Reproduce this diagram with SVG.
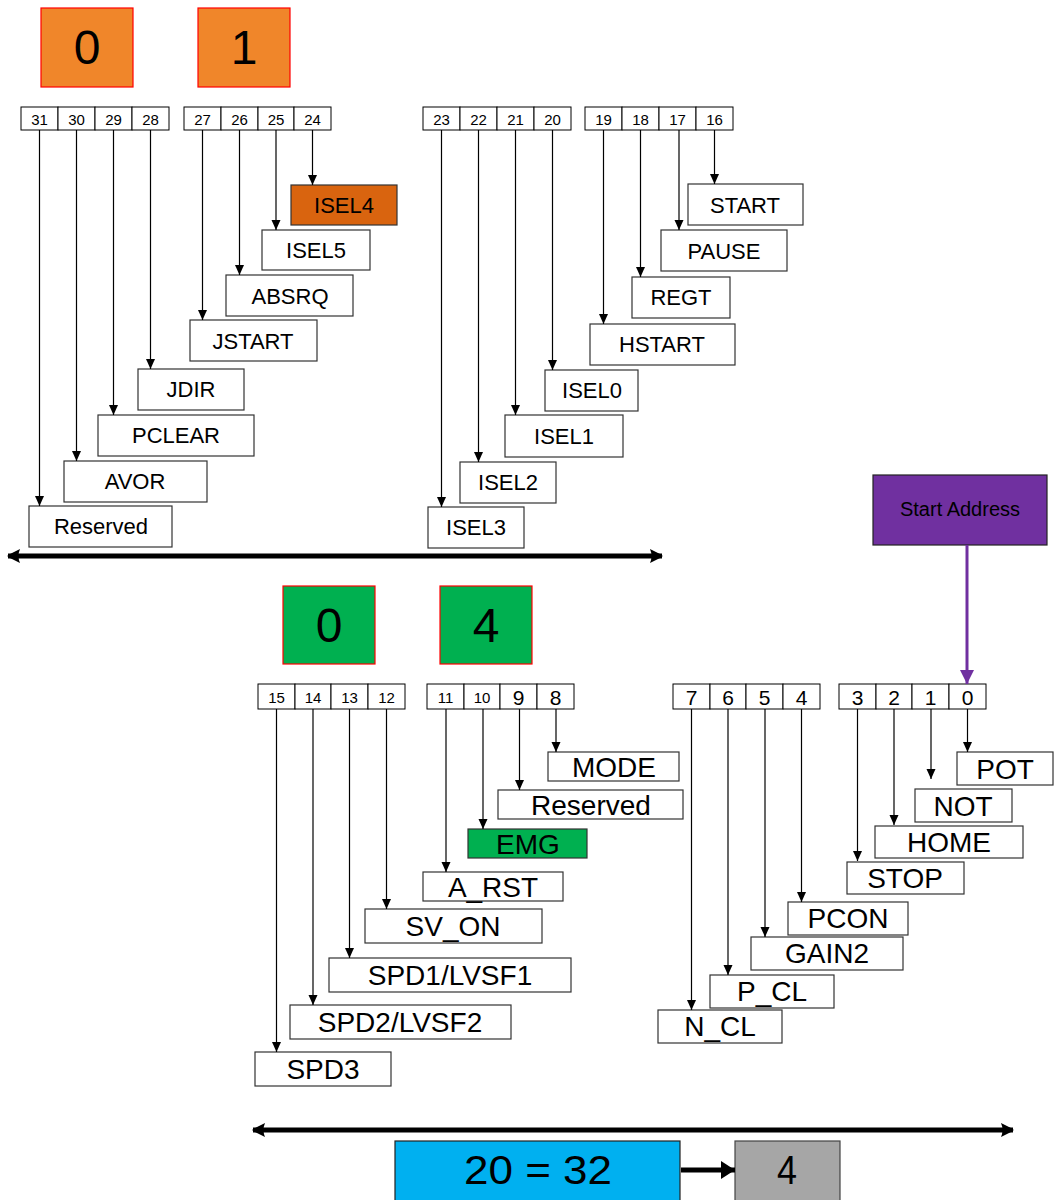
<svg xmlns="http://www.w3.org/2000/svg" width="1056" height="1200" viewBox="0 0 1056 1200">
<defs>
<marker id="ah" markerUnits="userSpaceOnUse" markerWidth="10" markerHeight="10" refX="10" refY="5" orient="auto"><path d="M0,0.5 L10,5 L0,9.5 z" fill="#000"/></marker>
<marker id="ahk" markerUnits="userSpaceOnUse" markerWidth="14" markerHeight="18" refX="14" refY="9" orient="auto"><path d="M0,0 L14,9 L0,18 z" fill="#000"/></marker>
<marker id="ahp" markerUnits="userSpaceOnUse" markerWidth="14" markerHeight="14" refX="14" refY="7" orient="auto"><path d="M0,0 L14,7 L0,14 z" fill="#7030A0"/></marker>
<marker id="ahb" markerUnits="userSpaceOnUse" markerWidth="14" markerHeight="14" refX="12" refY="7" orient="auto-start-reverse"><path d="M0,0 L12,6 Q13,7 12,8 L0,14 Q3,7 0,0 z" fill="#000"/></marker>
<style>
text{font-family:"Liberation Sans",Arial,sans-serif;fill:#000;text-anchor:middle;dominant-baseline:central}
.cell{fill:#fff;stroke:#000;stroke-width:1}
.lbl{fill:#fff;stroke:#333;stroke-width:1.2}
.bn{font-size:15px}
.bb{font-size:21px}
.t1{font-size:22px}
.t2{font-size:28px}
.ln{stroke:#000;stroke-width:1.2;fill:none;marker-end:url(#ah)}
.big{stroke:#000;stroke-width:5;fill:none;marker-start:url(#ahb);marker-end:url(#ahb)}
</style>
</defs>

<g id="hdr-top-0"><rect x="41" y="8" width="92" height="79" fill="#F0862A" stroke="#FF0000" stroke-width="1.2"/><text x="87" y="47" font-size="48">0</text></g>
<g id="hdr-top-1"><rect x="198" y="8" width="92" height="79" fill="#F0862A" stroke="#FF0000" stroke-width="1.2"/><text x="244" y="47" font-size="48">1</text></g>

<g id="bits-31-28">
<rect class="cell" x="21" y="107" width="37" height="23"/><text class="bn" x="39.5" y="119">31</text>
<rect class="cell" x="58" y="107" width="37" height="23"/><text class="bn" x="76.5" y="119">30</text>
<rect class="cell" x="95" y="107" width="37" height="23"/><text class="bn" x="113.5" y="119">29</text>
<rect class="cell" x="132" y="107" width="37" height="23"/><text class="bn" x="150.5" y="119">28</text>
</g>
<g id="bits-27-24">
<rect class="cell" x="184" y="107" width="37" height="23"/><text class="bn" x="202.5" y="119">27</text>
<rect class="cell" x="221" y="107" width="37" height="23"/><text class="bn" x="239.5" y="119">26</text>
<rect class="cell" x="258" y="107" width="36" height="23"/><text class="bn" x="276" y="119">25</text>
<rect class="cell" x="294" y="107" width="37" height="23"/><text class="bn" x="312.5" y="119">24</text>
</g>
<g id="bits-23-20">
<rect class="cell" x="423" y="107" width="37" height="23"/><text class="bn" x="441.5" y="119">23</text>
<rect class="cell" x="460" y="107" width="37" height="23"/><text class="bn" x="478.5" y="119">22</text>
<rect class="cell" x="497" y="107" width="37" height="23"/><text class="bn" x="515.5" y="119">21</text>
<rect class="cell" x="534" y="107" width="37" height="23"/><text class="bn" x="552.5" y="119">20</text>
</g>
<g id="bits-19-16">
<rect class="cell" x="585" y="107" width="37" height="23"/><text class="bn" x="603.5" y="119">19</text>
<rect class="cell" x="622" y="107" width="37" height="23"/><text class="bn" x="640.5" y="119">18</text>
<rect class="cell" x="659" y="107" width="37" height="23"/><text class="bn" x="677.5" y="119">17</text>
<rect class="cell" x="696" y="107" width="37" height="23"/><text class="bn" x="714.5" y="119">16</text>
</g>

<g id="n-isel4"><rect x="291" y="185" width="106" height="40" fill="#D9640F" stroke="#333" stroke-width="1.2"/><text class="t1" x="344" y="205">ISEL4</text></g>
<g id="n-isel5"><rect class="lbl" x="262" y="230" width="108" height="40"/><text class="t1" x="316" y="250">ISEL5</text></g>
<g id="n-absrq"><rect class="lbl" x="226" y="275" width="127" height="41"/><text class="t1" x="290" y="296">ABSRQ</text></g>
<g id="n-jstart"><rect class="lbl" x="190" y="320" width="127" height="41"/><text class="t1" x="253" y="341">JSTART</text></g>
<g id="n-jdir"><rect class="lbl" x="138" y="369" width="106" height="41"/><text class="t1" x="191" y="389">JDIR</text></g>
<g id="n-pclear"><rect class="lbl" x="98" y="415" width="156" height="41"/><text class="t1" x="176" y="435">PCLEAR</text></g>
<g id="n-avor"><rect class="lbl" x="64" y="461" width="143" height="41"/><text class="t1" x="135" y="481">AVOR</text></g>
<g id="n-reserved-top"><rect class="lbl" x="29" y="506" width="143" height="41"/><text class="t1" x="101" y="526">Reserved</text></g>

<g id="n-start"><rect class="lbl" x="688" y="184" width="115" height="41"/><text class="t1" x="745" y="205">START</text></g>
<g id="n-pause"><rect class="lbl" x="661" y="230" width="126" height="41"/><text class="t1" x="724" y="251">PAUSE</text></g>
<g id="n-regt"><rect class="lbl" x="632" y="277" width="98" height="41"/><text class="t1" x="681" y="297">REGT</text></g>
<g id="n-hstart"><rect class="lbl" x="590" y="324" width="145" height="41"/><text class="t1" x="662" y="344">HSTART</text></g>
<g id="n-isel0"><rect class="lbl" x="545" y="370" width="93" height="41"/><text class="t1" x="592" y="390">ISEL0</text></g>
<g id="n-isel1"><rect class="lbl" x="505" y="415" width="118" height="42"/><text class="t1" x="564" y="436">ISEL1</text></g>
<g id="n-isel2"><rect class="lbl" x="460" y="462" width="96" height="41"/><text class="t1" x="508" y="482">ISEL2</text></g>
<g id="n-isel3"><rect class="lbl" x="428" y="507" width="96" height="41"/><text class="t1" x="476" y="527">ISEL3</text></g>

<g id="hdr-bot-0"><rect x="283" y="586" width="92" height="78" fill="#00B050" stroke="#FF0000" stroke-width="1.2"/><text x="329" y="625" font-size="48">0</text></g>
<g id="hdr-bot-4"><rect x="440" y="586" width="92" height="78" fill="#00B050" stroke="#FF0000" stroke-width="1.2"/><text x="486" y="625" font-size="48">4</text></g>

<g id="bits-15-12">
<rect class="cell" x="258" y="684" width="37" height="25"/><text class="bn" x="276.5" y="697">15</text>
<rect class="cell" x="295" y="684" width="36" height="25"/><text class="bn" x="313" y="697">14</text>
<rect class="cell" x="331" y="684" width="37" height="25"/><text class="bn" x="349.5" y="697">13</text>
<rect class="cell" x="368" y="684" width="37" height="25"/><text class="bn" x="386.5" y="697">12</text>
</g>
<g id="bits-11-8">
<rect class="cell" x="427" y="684" width="37" height="25"/><text class="bn" x="445.5" y="697">11</text>
<rect class="cell" x="464" y="684" width="36" height="25"/><text class="bn" x="482" y="697">10</text>
<rect class="cell" x="500" y="684" width="37" height="25"/><text class="bb" x="518.5" y="697">9</text>
<rect class="cell" x="537" y="684" width="37" height="25"/><text class="bb" x="555.5" y="697">8</text>
</g>
<g id="bits-7-4">
<rect class="cell" x="673" y="684" width="37" height="25"/><text class="bb" x="691.5" y="697">7</text>
<rect class="cell" x="710" y="684" width="36" height="25"/><text class="bb" x="728" y="697">6</text>
<rect class="cell" x="746" y="684" width="37" height="25"/><text class="bb" x="764.5" y="697">5</text>
<rect class="cell" x="783" y="684" width="37" height="25"/><text class="bb" x="801.5" y="697">4</text>
</g>
<g id="bits-3-0">
<rect class="cell" x="839" y="684" width="37" height="25"/><text class="bb" x="857.5" y="697">3</text>
<rect class="cell" x="876" y="684" width="36" height="25"/><text class="bb" x="894" y="697">2</text>
<rect class="cell" x="912" y="684" width="37" height="25"/><text class="bb" x="930.5" y="697">1</text>
<rect class="cell" x="949" y="684" width="37" height="25"/><text class="bb" x="967.5" y="697">0</text>
</g>

<g id="n-start-address"><rect x="873" y="475" width="174" height="70" fill="#7030A0" stroke="#222" stroke-width="1.2"/><text x="960" y="509" font-size="20">Start Address</text></g>

<g id="n-mode"><rect class="lbl" x="548" y="752" width="131" height="29"/><text class="t2" x="614" y="767">MODE</text></g>
<g id="n-reserved-bot"><rect class="lbl" x="498" y="790" width="185" height="29"/><text class="t2" x="591" y="805">Reserved</text></g>
<g id="n-emg"><rect x="468" y="829" width="119" height="29" fill="#00B050" stroke="#333" stroke-width="1.2"/><text class="t2" x="528" y="844">EMG</text></g>
<g id="n-arst"><rect class="lbl" x="423" y="872" width="140" height="29"/><text class="t2" x="493" y="887">A_RST</text></g>
<g id="n-svon"><rect class="lbl" x="365" y="909" width="177" height="34"/><text class="t2" x="453" y="926">SV_ON</text></g>
<g id="n-spd1"><rect class="lbl" x="329" y="958" width="242" height="34"/><text class="t2" x="450" y="975">SPD1/LVSF1</text></g>
<g id="n-spd2"><rect class="lbl" x="290" y="1005" width="221" height="34"/><text class="t2" x="400" y="1022">SPD2/LVSF2</text></g>
<g id="n-spd3"><rect class="lbl" x="255" y="1052" width="136" height="34"/><text class="t2" x="323" y="1069">SPD3</text></g>

<g id="n-pot"><rect class="lbl" x="957" y="752" width="96" height="33"/><text class="t2" x="1005" y="769">POT</text></g>
<g id="n-not"><rect class="lbl" x="915" y="789" width="97" height="33"/><text class="t2" x="963" y="806">NOT</text></g>
<g id="n-home"><rect class="lbl" x="875" y="826" width="148" height="32"/><text class="t2" x="949" y="842">HOME</text></g>
<g id="n-stop"><rect class="lbl" x="847" y="862" width="117" height="32"/><text class="t2" x="905" y="878">STOP</text></g>
<g id="n-pcon"><rect class="lbl" x="788" y="902" width="120" height="33"/><text class="t2" x="848" y="918">PCON</text></g>
<g id="n-gain2"><rect class="lbl" x="751" y="937" width="152" height="33"/><text class="t2" x="827" y="953">GAIN2</text></g>
<g id="n-pcl"><rect class="lbl" x="710" y="975" width="124" height="33"/><text class="t2" x="772" y="991">P_CL</text></g>
<g id="n-ncl"><rect class="lbl" x="658" y="1010" width="124" height="33"/><text class="t2" x="720" y="1026">N_CL</text></g>

<g id="n-sum"><rect x="395" y="1141" width="285" height="62" fill="#00B0F0" stroke="#222" stroke-width="1.2"/><text x="538" y="1170" font-size="40" textLength="148" lengthAdjust="spacingAndGlyphs">20 = 32</text></g>
<g id="n-result"><rect x="735" y="1141" width="105" height="62" fill="#A6A6A6" stroke="#444" stroke-width="1.2"/><text x="787" y="1170" font-size="40" textLength="20" lengthAdjust="spacingAndGlyphs">4</text></g>

<g id="connectors">
<line class="ln" x1="39.5" y1="130" x2="39.5" y2="506"/>
<line class="ln" x1="76.5" y1="130" x2="76.5" y2="461"/>
<line class="ln" x1="113.5" y1="130" x2="113.5" y2="415"/>
<line class="ln" x1="150.5" y1="130" x2="150.5" y2="369"/>
<line class="ln" x1="202.5" y1="130" x2="202.5" y2="320"/>
<line class="ln" x1="239.5" y1="130" x2="239.5" y2="275"/>
<line class="ln" x1="276" y1="130" x2="276" y2="230"/>
<line class="ln" x1="312.5" y1="130" x2="312.5" y2="185"/>
<line class="ln" x1="441.5" y1="130" x2="441.5" y2="507"/>
<line class="ln" x1="478.5" y1="130" x2="478.5" y2="462"/>
<line class="ln" x1="515.5" y1="130" x2="515.5" y2="415"/>
<line class="ln" x1="552.5" y1="130" x2="552.5" y2="370"/>
<line class="ln" x1="603.5" y1="130" x2="603.5" y2="324"/>
<line class="ln" x1="640.5" y1="130" x2="640.5" y2="277"/>
<line class="ln" x1="679" y1="130" x2="679" y2="230"/>
<line class="ln" x1="714.5" y1="130" x2="714.5" y2="184"/>
<line class="big" x1="8" y1="556" x2="662" y2="556"/>

<line class="ln" x1="276.5" y1="709" x2="276.5" y2="1052"/>
<line class="ln" x1="313" y1="709" x2="313" y2="1005"/>
<line class="ln" x1="349.5" y1="709" x2="349.5" y2="958"/>
<line class="ln" x1="386.5" y1="709" x2="386.5" y2="909"/>
<line class="ln" x1="446" y1="709" x2="446" y2="872"/>
<line class="ln" x1="483" y1="709" x2="483" y2="829"/>
<line class="ln" x1="519.5" y1="709" x2="519.5" y2="790"/>
<line class="ln" x1="556" y1="709" x2="556" y2="752"/>
<line class="ln" x1="691.5" y1="709" x2="691.5" y2="1010"/>
<line class="ln" x1="728" y1="709" x2="728" y2="975"/>
<line class="ln" x1="765" y1="709" x2="765" y2="937"/>
<line class="ln" x1="801.5" y1="709" x2="801.5" y2="902"/>
<line class="ln" x1="857.5" y1="709" x2="857.5" y2="861"/>
<line class="ln" x1="894" y1="709" x2="894" y2="825"/>
<line class="ln" x1="931" y1="709" x2="931" y2="779"/>
<line class="ln" x1="967.5" y1="709" x2="967.5" y2="752"/>
<line x1="967" y1="545" x2="967" y2="684" stroke="#7030A0" stroke-width="3" marker-end="url(#ahp)"/>
<line class="big" x1="253" y1="1130" x2="1013" y2="1130"/>
<line x1="681" y1="1170" x2="735" y2="1170" stroke="#000" stroke-width="5" marker-end="url(#ahk)"/>
</g>
</svg>
